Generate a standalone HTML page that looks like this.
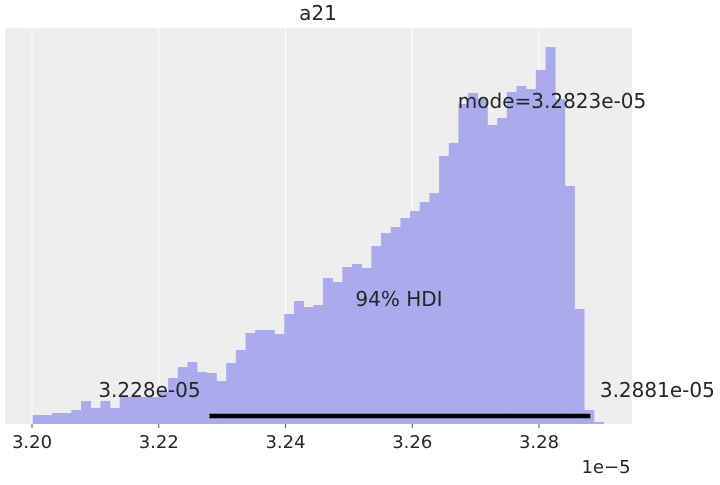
<!DOCTYPE html>
<html><head><meta charset="utf-8"><style>
body{margin:0;background:#fff;}
svg text{font-family:"DejaVu Sans","Liberation Sans",sans-serif;fill:#262626;}
</style></head><body>
<svg width="720" height="480">
<rect x="5" y="28" width="627" height="396" fill="#eeeeee"/>
<g id="grid"></g><g id="bars"></g><g id="ticks"></g>
<line id="hdi" stroke="#000" stroke-width="4.5"/>
<text x="318" y="20" font-size="20" text-anchor="middle">a21</text>
<text id="hdiLo" y="397" font-size="20" text-anchor="middle">3.228e-05</text>
<text id="hdiHi" y="397" font-size="20" text-anchor="middle">3.2881e-05</text>
<text x="399" y="306" font-size="20" text-anchor="middle">94% HDI</text>
<text x="552" y="108" font-size="20" text-anchor="middle">mode=3.2823e-05</text>
<text x="606" y="473" font-size="18" text-anchor="middle">1e−5</text>
</svg>
<script>
const binStart = 3.2001;
const binWidth = 0.001527;
const counts = [9,9,11,11,14,23,16,23,16,27,27,27,27,32,46,57,62,52,51,43,61,74,91,94,94,90,110,123,117,119,146,142,157,160,156,178,191,197,206,213,222,231,268,281,320,331,325,299,306,332,338,335,354,377,325,238,115,14,2];
const xTicks = [3.20,3.22,3.24,3.26,3.28];
const hdiBounds = [3.228,3.2881];
const NS="http://www.w3.org/2000/svg";
const x = v => 32 + (v-3.20)/0.02*126.75;
const yMax = 396;
const y = c => 424 - c/yMax*396;
const grid=document.getElementById('grid'), bars=document.getElementById('bars'), ticks=document.getElementById('ticks');
xTicks.forEach(t=>{
  const l=document.createElementNS(NS,'line');
  l.setAttribute('x1',x(t));l.setAttribute('x2',x(t));l.setAttribute('y1',28);l.setAttribute('y2',424);
  l.setAttribute('stroke','#fff');l.setAttribute('stroke-width','1');
  
  
  grid.appendChild(l);
  const tk=document.createElementNS(NS,'line');
  tk.setAttribute('x1',x(t));tk.setAttribute('x2',x(t));tk.setAttribute('y1',424);tk.setAttribute('y2',428);
  tk.setAttribute('stroke','#555');
  
  
  ticks.appendChild(tk);
  const tx=document.createElementNS(NS,'text');
  tx.setAttribute('x',x(t));tx.setAttribute('y',448);tx.setAttribute('font-size','18');tx.setAttribute('text-anchor','middle');
  tx.textContent=t.toFixed(2);
  
  
  ticks.appendChild(tx);
});
counts.forEach((c,i)=>{
  const x0=x(binStart+i*binWidth), x1=x(binStart+(i+1)*binWidth);
  const r=document.createElementNS(NS,'rect');
  r.setAttribute('x',x0);r.setAttribute('width',x1-x0+0.3);r.setAttribute('y',y(c));r.setAttribute('height',424-y(c));
  r.setAttribute('fill','#aaabec');
  
  
  bars.appendChild(r);
});
const h=document.getElementById('hdi');
h.setAttribute('x1',x(hdiBounds[0]));h.setAttribute('x2',x(hdiBounds[1]));h.setAttribute('y1',416);h.setAttribute('y2',416);
document.getElementById('hdiLo').setAttribute('x',x(hdiBounds[0])-60);
document.getElementById('hdiHi').setAttribute('x',x(hdiBounds[1])+67);
</script>
</body></html>
